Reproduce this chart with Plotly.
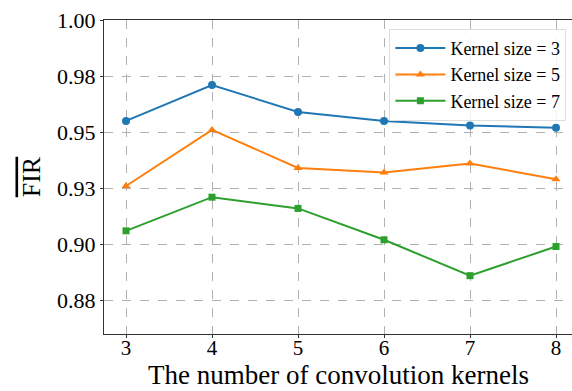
import plotly.graph_objects as go

kernels = [3, 4, 5, 6, 7, 8]
k3 = [0.955, 0.971, 0.959, 0.955, 0.953, 0.952]
k5 = [0.926, 0.951, 0.934, 0.932, 0.936, 0.929]
k7 = [0.906, 0.921, 0.916, 0.902, 0.886, 0.899]
series_names = ["Kernel size = 3", "Kernel size = 5", "Kernel size = 7"]
colors = ["#1f77b4", "#ff7f0e", "#2ca02c"]
symbols = ["circle", "triangle-up", "square"]
ytickvals = [0.875, 0.9, 0.925, 0.95, 0.975, 1.0]
yticktext = ["0.88", "0.90", "0.93", "0.95", "0.98", "1.00"]

FONT = "Liberation Serif"

fig = go.Figure()
for name, vals, c, s in zip(series_names, [k3, k5, k7], colors, symbols):
    fig.add_trace(go.Scatter(
        x=kernels, y=vals, name=name, mode="lines+markers",
        line=dict(color=c, width=2),
        marker=dict(color=c, symbol=s, size=8 if s != "square" else 7),
    ))

fig.update_layout(
    width=572, height=391,
    margin=dict(l=104, r=0, t=20, b=57),
    paper_bgcolor="white", plot_bgcolor="white",
    font=dict(family=FONT, color="black"),
    legend=dict(
        x=0.988, y=0.972, xanchor="right", yanchor="top",
        bgcolor="rgba(255,255,255,0.85)", bordercolor="#dddddd", borderwidth=1,
        font=dict(size=18, family=FONT, color="black"), tracegroupgap=0,
        itemwidth=50,
    ),
    xaxis=dict(
        range=[2.744, 8.186], tickvals=kernels, ticktext=[str(k) for k in kernels],
        showgrid=True, gridcolor="#b0b0b0", griddash="dash", gridwidth=1,
        showline=True, linecolor="#333333", linewidth=1, mirror=True,
        ticks="outside", ticklen=3, tickcolor="#333333", ticklabelstandoff=-8,
        tickfont=dict(size=21, family=FONT, color="black"),
        zeroline=False,
    ),
    yaxis=dict(
        range=[0.86, 1.0], tickvals=ytickvals, ticktext=yticktext,
        showgrid=True, gridcolor="#b0b0b0", griddash="dash", gridwidth=1,
        showline=True, linecolor="#333333", linewidth=1, mirror=False,
        ticks="outside", ticklen=3, tickcolor="#333333",
        tickfont=dict(size=22, family=FONT, color="black"),
        title=dict(text="<span style='text-decoration:overline'>FIR</span>",
                   font=dict(size=26, family=FONT, color="black"), standoff=8),
        zeroline=False,
    ),
    annotations=[dict(
        text="The number of convolution kernels", xref="paper", yref="paper",
        x=0.5, y=0, xanchor="center", yanchor="bottom", yshift=-58, showarrow=False,
        font=dict(size=27, family=FONT, color="black"),
    )],
)

fig.write_html("out.html")
